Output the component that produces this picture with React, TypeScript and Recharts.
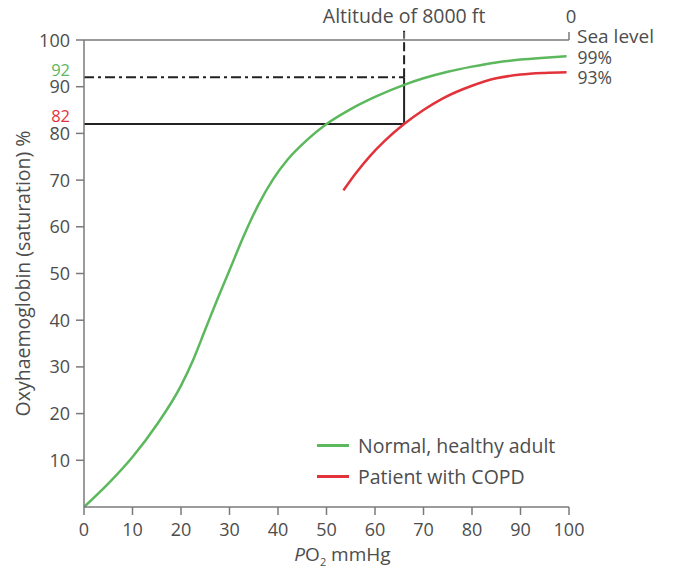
import React from "react";
import { LineChart, Line, XAxis, YAxis, ReferenceLine } from "recharts";

const po2Ticks = [0, 10, 20, 30, 40, 50, 60, 70, 80, 90, 100];
const satTicks = [10, 20, 30, 40, 50, 60, 70, 80, 90, 100];

const normalCurve = [
  { po2: 0, sat: 0 },
  { po2: 5, sat: 5 },
  { po2: 10, sat: 10.7 },
  { po2: 15, sat: 17.6 },
  { po2: 20, sat: 26 },
  { po2: 22.5, sat: 31.5 },
  { po2: 25, sat: 38 },
  { po2: 27.5, sat: 44.5 },
  { po2: 30, sat: 50.7 },
  { po2: 33, sat: 58.2 },
  { po2: 36, sat: 64.8 },
  { po2: 39, sat: 70.2 },
  { po2: 42, sat: 74.4 },
  { po2: 46, sat: 78.6 },
  { po2: 50, sat: 82 },
  { po2: 55, sat: 85.2 },
  { po2: 60, sat: 87.8 },
  { po2: 66, sat: 90.4 },
  { po2: 70, sat: 91.8 },
  { po2: 75, sat: 93.2 },
  { po2: 80, sat: 94.3 },
  { po2: 85, sat: 95.2 },
  { po2: 90, sat: 95.8 },
  { po2: 95, sat: 96.2 },
  { po2: 99.5, sat: 96.5 },
];

const copdCurve = [
  { po2: 53.5, sat: 67.8 },
  { po2: 56, sat: 71.4 },
  { po2: 59, sat: 75.2 },
  { po2: 62, sat: 78.4 },
  { po2: 66, sat: 82 },
  { po2: 70, sat: 85 },
  { po2: 74, sat: 87.5 },
  { po2: 80, sat: 90.2 },
  { po2: 85, sat: 91.8 },
  { po2: 90, sat: 92.6 },
  { po2: 95, sat: 92.95 },
  { po2: 99.5, sat: 93.1 },
];

// altitude marker: PO2 at 8000 ft and the saturations it gives
const altitudePo2 = 66;
const normalAtAltitude = 92;
const copdAtAltitude = 82;
const seaLevelLabels = ["99%", "93%"];
const seriesNames = ["Normal, healthy adult", "Patient with COPD"];

const GREEN = "#5cb85c";
const RED = "#e2323a";
const TEXT = "#4d4d4d";
const AXIS = "#7a7a7a";
const FONT = "'Open Sans', sans-serif";

const YTick = (props: any) => {
  const { x, y, payload } = props;
  const v = payload.value;
  let fill = TEXT;
  let dy = 6.5;
  let size = 18;
  if (v === normalAtAltitude) {
    fill = GREEN;
    dy = -1.5;
    size = 16.5;
  }
  if (v === copdAtAltitude) {
    fill = RED;
    dy = -2.5;
    size = 16.5;
  }
  const major = satTicks.includes(v);
  return (
    <g>
      {major && (
        <line x1={x + 6} x2={x + 14} y1={y} y2={y} stroke={AXIS} strokeWidth={1.5} />
      )}
      <text x={x} y={y} dy={dy} textAnchor="end" fill={fill} fontSize={size} fontFamily={FONT}>
        {v}
      </text>
    </g>
  );
};

const TopTick = (props: any) => {
  const { x, y, payload } = props;
  if (payload.value === altitudePo2) {
    return (
      <text x={x} y={y - 7} textAnchor="middle" fill={TEXT} fontSize={19.5} fontFamily={FONT}>
        Altitude of 8000 ft
      </text>
    );
  }
  return (
    <g>
      <text x={x + 2} y={y - 7} textAnchor="middle" fill={TEXT} fontSize={18.5} fontFamily={FONT}>
        0
      </text>
      <text x={x + 8} y={y + 13} fill={TEXT} fontSize={19} fontFamily={FONT}>
        Sea level
      </text>
    </g>
  );
};

const EndLabel = (idx: number, last: number) => (props: any) => {
  const { x, y, index } = props;
  if (index !== last) return null;
  return (
    <text x={x + 11} y={y + (idx === 0 ? 8 : 12)} fill={TEXT} fontSize={17.5} fontFamily={FONT}>
      {seaLevelLabels[idx]}
    </text>
  );
};

const XLabel = (props: any) => {
  const { viewBox } = props;
  const cx = viewBox.x + viewBox.width / 2 + 16;
  return (
    <text x={cx} y={viewBox.y + 54} textAnchor="middle" fill={TEXT} fontSize={19} fontFamily={FONT}>
      <tspan fontStyle="italic">P</tspan>
      <tspan>O</tspan>
      <tspan fontSize={11} dy={5}>2</tspan>
      <tspan dy={-5}> mmHg</tspan>
    </text>
  );
};

const LegendBox = () => (
  <div
    style={{
      position: "absolute",
      left: 317,
      top: 430,
      fontFamily: FONT,
      fontSize: 19.5,
      color: TEXT,
      lineHeight: "31px",
    }}
  >
    {[GREEN, RED].map((color, i) => (
      <div key={seriesNames[i]} style={{ display: "flex", alignItems: "center" }}>
        <span
          style={{
            display: "inline-block",
            width: 32,
            height: 2.5,
            background: color,
            marginRight: 9,
          }}
        />
        {seriesNames[i]}
      </div>
    ))}
  </div>
);

export default function App() {
  return (
    <div style={{ position: "absolute", left: 0, top: 0, width: 675, height: 575, background: "#fff" }}>
      <LineChart
        width={675}
        height={575}
        margin={{ top: 10, right: 106, bottom: 28, left: 24 }}
      >
        <XAxis
          xAxisId="bottom"
          type="number"
          dataKey="po2"
          domain={[0, 100]}
          ticks={po2Ticks}
          height={40}
          stroke={AXIS}
          strokeWidth={1.5}
          tickSize={8}
          tickMargin={8}
          tick={{ fill: TEXT, fontSize: 18, fontFamily: FONT }}
          label={<XLabel />}
          allowDataOverflow
        />
        <XAxis
          xAxisId="top"
          orientation="top"
          type="number"
          dataKey="po2"
          domain={[0, 100]}
          ticks={[altitudePo2, 100]}
          height={30}
          stroke={AXIS}
          strokeWidth={1.5}
          tickSize={8}
          tickMargin={2}
          tick={<TopTick />}
          allowDataOverflow
        />
        <YAxis
          type="number"
          domain={[0, 100]}
          ticks={[...satTicks, normalAtAltitude, copdAtAltitude]}
          width={60}
          stroke={AXIS}
          strokeWidth={1.5}
          tickLine={false}
          tickSize={8}
          tickMargin={6}
          tick={<YTick />}
          interval={0}
          label={{
            value: "Oxyhaemoglobin (saturation) %",
            angle: -90,
            position: "insideLeft",
            offset: 0,
            dx: -1,
            style: { fill: TEXT, fontSize: 19.5, fontFamily: FONT, textAnchor: "middle" },
          }}
        />
        <ReferenceLine
          xAxisId="bottom"
          segment={[
            { x: 0, y: normalAtAltitude },
            { x: altitudePo2, y: normalAtAltitude },
          ]}
          stroke="#222"
          strokeWidth={2}
          strokeDasharray="10 4 3 4"
        />
        <ReferenceLine
          xAxisId="bottom"
          segment={[
            { x: 0, y: copdAtAltitude },
            { x: altitudePo2, y: copdAtAltitude },
          ]}
          stroke="#222"
          strokeWidth={2}
        />
        <ReferenceLine
          xAxisId="bottom"
          segment={[
            { x: altitudePo2, y: copdAtAltitude },
            { x: altitudePo2, y: normalAtAltitude },
          ]}
          stroke="#222"
          strokeWidth={2}
        />
        <ReferenceLine
          xAxisId="bottom"
          segment={[
            { x: altitudePo2, y: normalAtAltitude },
            { x: altitudePo2, y: 102 },
          ]}
          stroke="#222"
          strokeWidth={2}
          strokeDasharray="9 4"
          ifOverflow="visible"
        />
        <Line
          xAxisId="bottom"
          data={normalCurve}
          dataKey="sat"
          type="monotone"
          stroke={GREEN}
          strokeWidth={2.5}
          dot={false}
          isAnimationActive={false}
          label={EndLabel(0, normalCurve.length - 1)}
        />
        <Line
          xAxisId="bottom"
          data={copdCurve}
          dataKey="sat"
          type="monotone"
          stroke={RED}
          strokeWidth={2.5}
          dot={false}
          isAnimationActive={false}
          label={EndLabel(1, copdCurve.length - 1)}
        />
      </LineChart>
      <LegendBox />
    </div>
  );
}
